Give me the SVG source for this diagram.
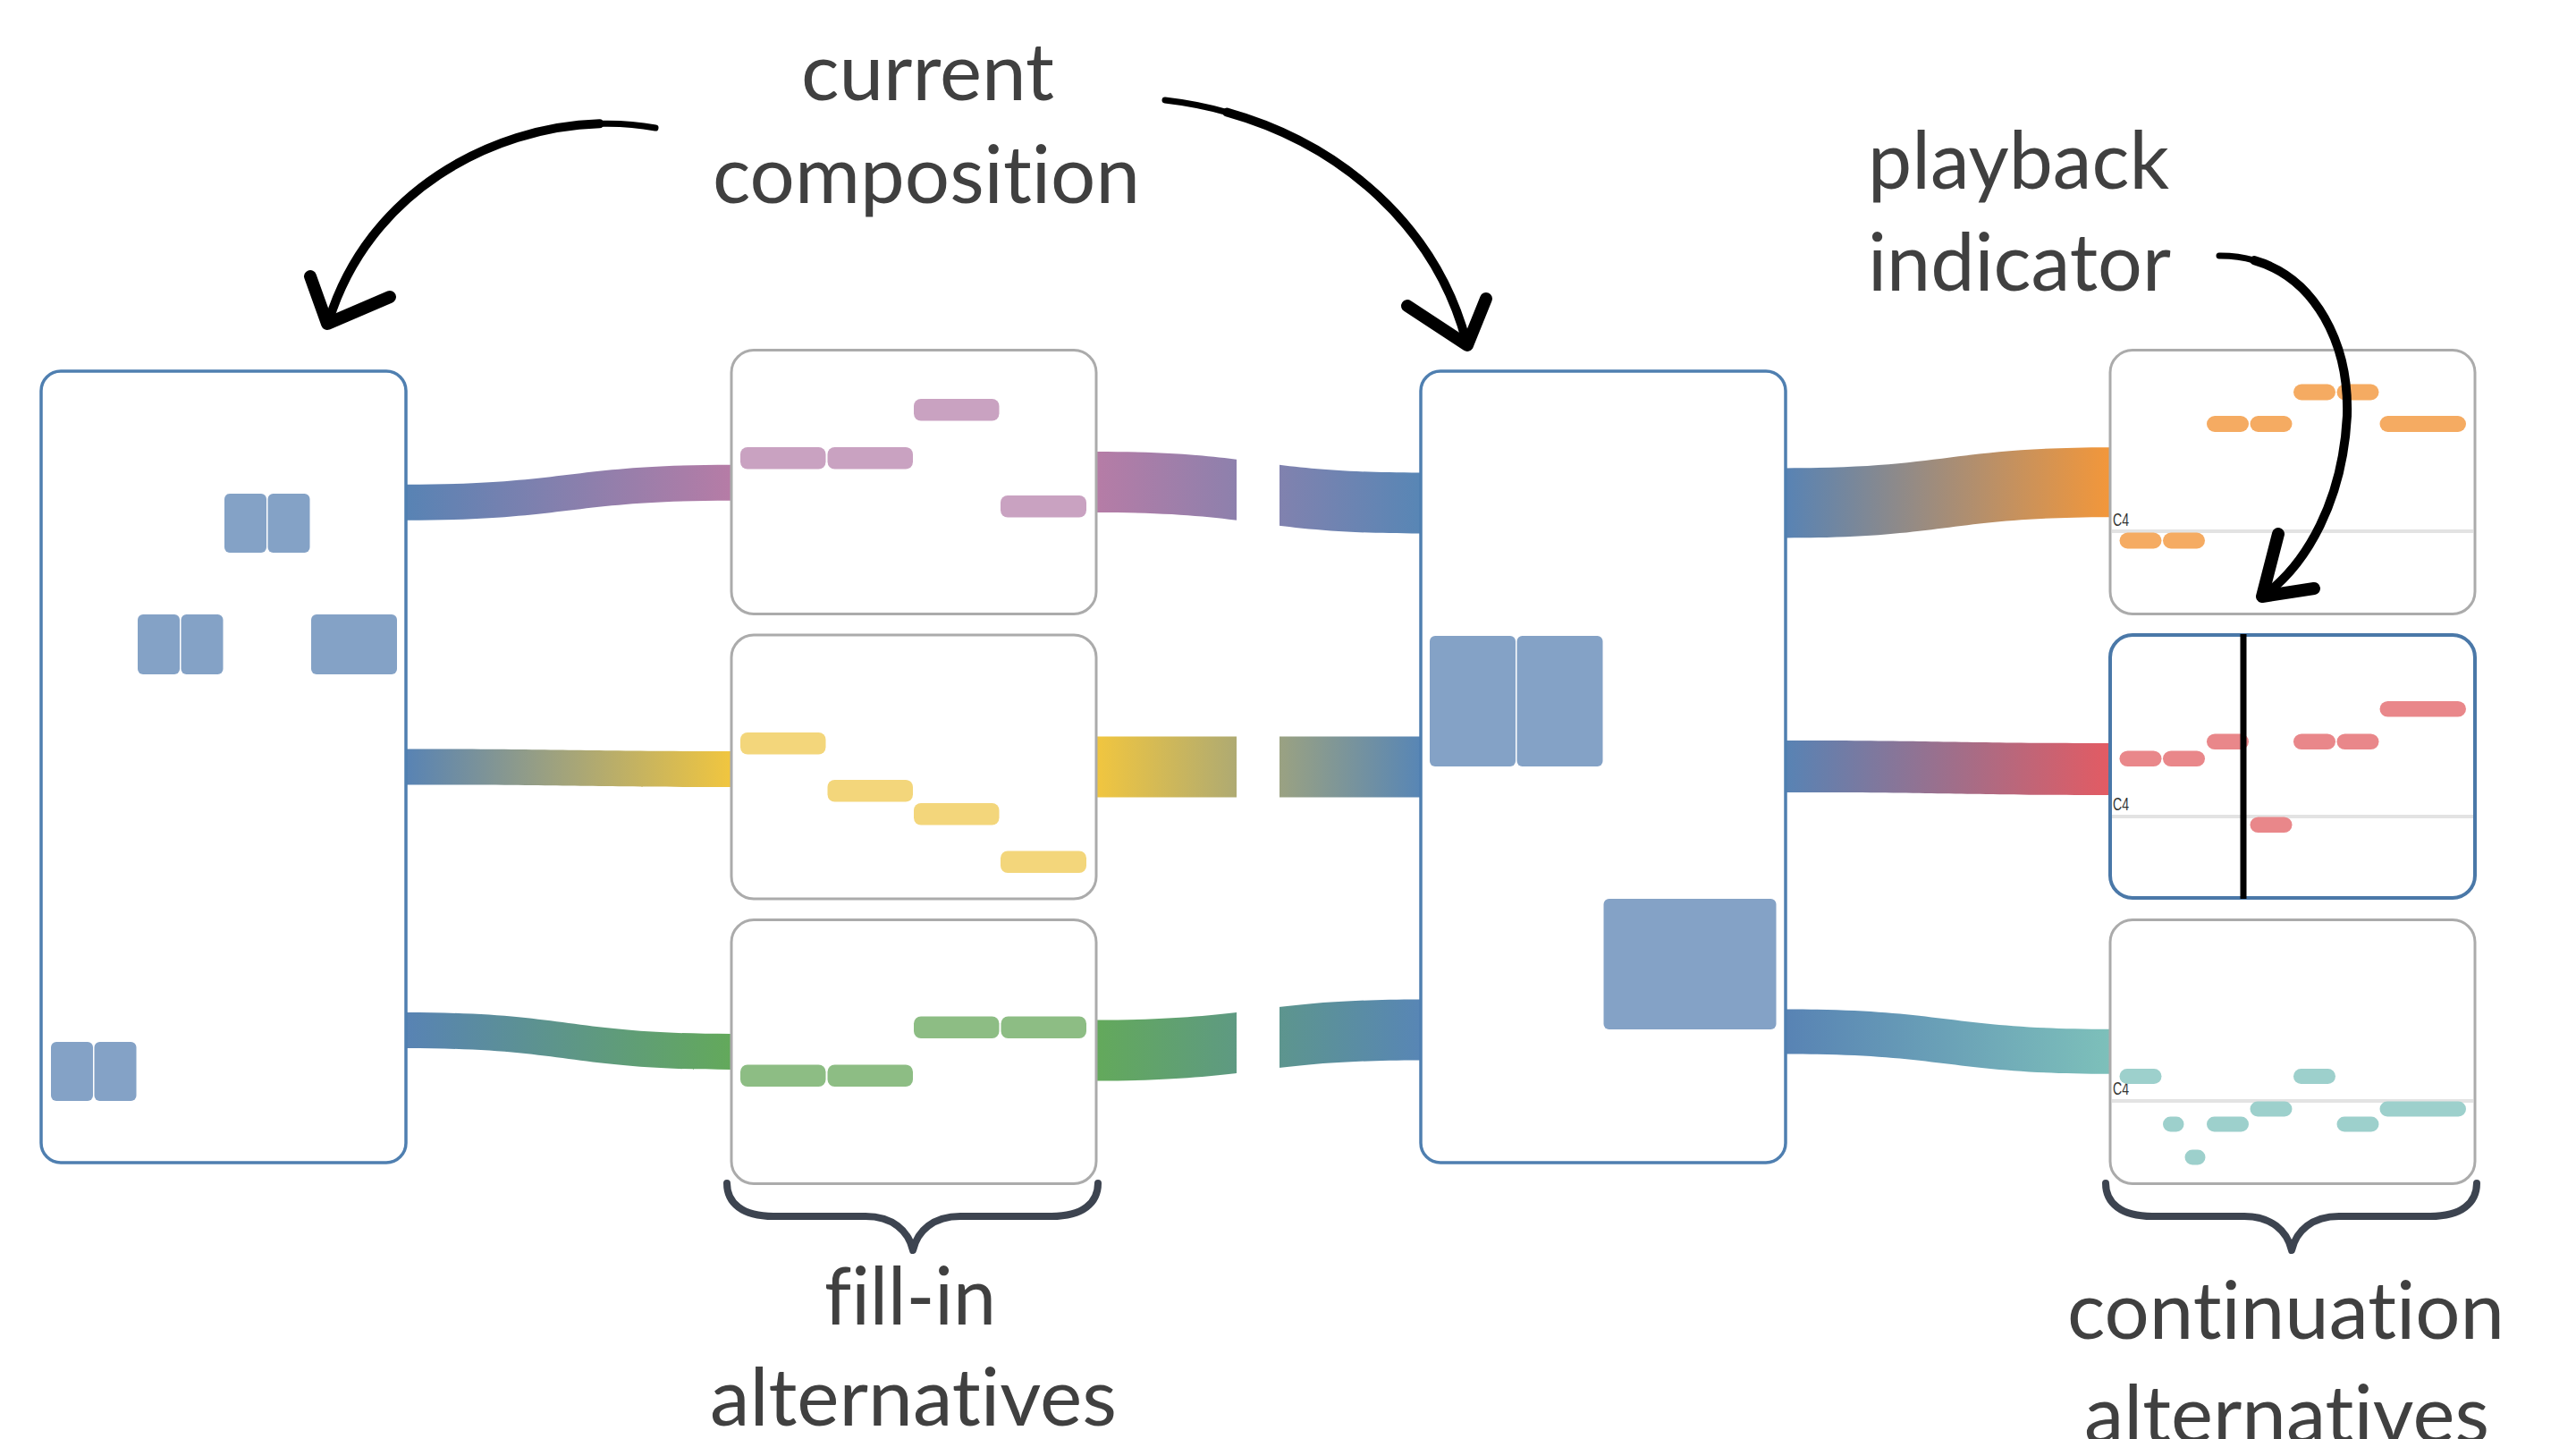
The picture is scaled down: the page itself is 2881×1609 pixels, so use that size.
<svg xmlns="http://www.w3.org/2000/svg" width="2881" height="1609" viewBox="0 0 2881 1609">
  <style>
    .label { font-family: Lato, "Open Sans", "Liberation Sans", sans-serif; font-size: 90px; fill: #404040; font-variant-ligatures: none; font-feature-settings: "liga" 0, "dlig" 0; }
    .c4 { font-family: "Liberation Sans", Arial, sans-serif; font-size: 20px; fill: #333333; }
    .comp { fill: #ffffff; stroke: #4f7fb0; stroke-width: 3.5; }
    .alt { fill: #ffffff; stroke: #ababab; stroke-width: 3; }
    .alt-sel { fill: #ffffff; stroke: #4a78a8; stroke-width: 4; }
    .blue-note { fill: #84a2c6; }
    .n-purple { fill: #c9a2c1; }
    .n-yellow { fill: #f3d67b; }
    .n-green { fill: #8dbd84; }
    .n-orange { fill: #f5ab62; }
    .n-red { fill: #e9878a; }
    .n-teal { fill: #9dd0cc; }
    .c4line { stroke: #e3e3e3; stroke-width: 4; }
    .shaft { fill: none; stroke: #000000; stroke-width: 10; stroke-linecap: round; }
    .tail { fill: none; stroke: #000000; stroke-width: 7; stroke-linecap: round; }
    .barb { fill: none; stroke: #000000; stroke-width: 14; stroke-linecap: round; stroke-linejoin: round; }
    .brace { fill: none; stroke: #3d4450; stroke-width: 8; stroke-linecap: round; stroke-linejoin: round; }
  </style>
  <defs>
    <linearGradient id="g-l-purple" gradientUnits="userSpaceOnUse" x1="454" y1="0" x2="818" y2="0">
      <stop offset="0" stop-color="#5883b4"/><stop offset="1" stop-color="#b67ca6"/>
    </linearGradient>
    <linearGradient id="g-l-yellow" gradientUnits="userSpaceOnUse" x1="454" y1="0" x2="818" y2="0">
      <stop offset="0" stop-color="#5883b4"/><stop offset="1" stop-color="#f1c63f"/>
    </linearGradient>
    <linearGradient id="g-l-green" gradientUnits="userSpaceOnUse" x1="454" y1="0" x2="818" y2="0">
      <stop offset="0" stop-color="#5883b4"/><stop offset="1" stop-color="#63a95b"/>
    </linearGradient>
    <linearGradient id="g-m-purple" gradientUnits="userSpaceOnUse" x1="1226" y1="0" x2="1588" y2="0">
      <stop offset="0" stop-color="#b67ca6"/><stop offset="1" stop-color="#5886b5"/>
    </linearGradient>
    <linearGradient id="g-m-yellow" gradientUnits="userSpaceOnUse" x1="1226" y1="0" x2="1588" y2="0">
      <stop offset="0" stop-color="#f1c63f"/><stop offset="1" stop-color="#5886b5"/>
    </linearGradient>
    <linearGradient id="g-m-green" gradientUnits="userSpaceOnUse" x1="1226" y1="0" x2="1588" y2="0">
      <stop offset="0" stop-color="#63a95b"/><stop offset="1" stop-color="#5886b5"/>
    </linearGradient>
    <linearGradient id="g-r-orange" gradientUnits="userSpaceOnUse" x1="1997" y1="0" x2="2360" y2="0">
      <stop offset="0" stop-color="#5883b4"/><stop offset="1" stop-color="#f3973a"/>
    </linearGradient>
    <linearGradient id="g-r-red" gradientUnits="userSpaceOnUse" x1="1997" y1="0" x2="2360" y2="0">
      <stop offset="0" stop-color="#5883b4"/><stop offset="1" stop-color="#e35b63"/>
    </linearGradient>
    <linearGradient id="g-r-teal" gradientUnits="userSpaceOnUse" x1="1997" y1="0" x2="2360" y2="0">
      <stop offset="0" stop-color="#5883b4"/><stop offset="1" stop-color="#7dc0ba"/>
    </linearGradient>
    <!-- the fill-in links are broken in the middle -->
    <clipPath id="split-link">
      <rect x="1200" y="400" width="183" height="900"/>
      <rect x="1431" y="400" width="180" height="900"/>
    </clipPath>
  </defs>

  <rect x="0" y="0" width="2881" height="1609" fill="#ffffff"/>

  <!-- connectors: sankey-style bands -->
  <g id="connectors">
    <path d="M454,541.7 C636,541.7 636,519.7 818,519.7 L818,559.7 C636,559.7 636,581.7 454,581.7 Z" fill="url(#g-l-purple)"/>
    <path d="M454,837.5 C636,837.5 636,840 818,840 L818,880 C636,880 636,877.5 454,877.5 Z" fill="url(#g-l-yellow)"/>
    <path d="M454,1132 C636,1132 636,1156 818,1156 L818,1196 C636,1196 636,1172 454,1172 Z" fill="url(#g-l-green)"/>
    <g clip-path="url(#split-link)">
      <path d="M1226,505 C1407,505 1407,528.5 1588,528.5 L1588,596.5 C1407,596.5 1407,573 1226,573 Z" fill="url(#g-m-purple)"/>
      <path d="M1226,823.5 C1407,823.5 1407,823.5 1588,823.5 L1588,891.5 C1407,891.5 1407,891.5 1226,891.5 Z" fill="url(#g-m-yellow)"/>
      <path d="M1226,1140.5 C1407,1140.5 1407,1117.5 1588,1117.5 L1588,1185.5 C1407,1185.5 1407,1208.5 1226,1208.5 Z" fill="url(#g-m-green)"/>
    </g>
    <path d="M1997,523.4 C2178.5,523.4 2178.5,500.2 2360,500.2 L2360,578.2 C2178.5,578.2 2178.5,601.4 1997,601.4 Z" fill="url(#g-r-orange)"/>
    <path d="M1997,828 C2178.5,828 2178.5,831 2360,831 L2360,889 C2178.5,889 2178.5,886 1997,886 Z" fill="url(#g-r-red)"/>
    <path d="M1997,1128.4 C2178.5,1128.4 2178.5,1150.7 2360,1150.7 L2360,1200.7 C2178.5,1200.7 2178.5,1178.4 1997,1178.4 Z" fill="url(#g-r-teal)"/>
  </g>

  <!-- current composition, before editing -->
  <g id="composition-left">
    <rect class="comp" x="46" y="415" width="408" height="885" rx="22"/>
    <rect class="blue-note" x="251" y="552" width="47" height="66" rx="6"/>
    <rect class="blue-note" x="299.5" y="552" width="47" height="66" rx="6"/>
    <rect class="blue-note" x="154" y="687" width="47" height="67" rx="6"/>
    <rect class="blue-note" x="202.5" y="687" width="47" height="67" rx="6"/>
    <rect class="blue-note" x="348" y="687" width="96" height="67" rx="6"/>
    <rect class="blue-note" x="57" y="1165" width="47" height="66" rx="6"/>
    <rect class="blue-note" x="105.5" y="1165" width="47" height="66" rx="6"/>
  </g>

  <!-- fill-in alternatives -->
  <g id="fillin-1">
    <rect class="alt" x="818" y="391.5" width="408" height="295" rx="25"/>
    <rect class="n-purple" x="828" y="500" width="95.5" height="24.5" rx="8"/>
    <rect class="n-purple" x="925.5" y="500" width="95.5" height="24.5" rx="8"/>
    <rect class="n-purple" x="1022" y="446" width="95.5" height="24.5" rx="8"/>
    <rect class="n-purple" x="1119" y="554" width="96" height="24.5" rx="8"/>
  </g>
  <g id="fillin-2">
    <rect class="alt" x="818" y="710" width="408" height="295" rx="25"/>
    <rect class="n-yellow" x="828" y="819" width="95.5" height="24.5" rx="8"/>
    <rect class="n-yellow" x="925.5" y="872" width="95.5" height="24.5" rx="8"/>
    <rect class="n-yellow" x="1022" y="898" width="95.5" height="24.5" rx="8"/>
    <rect class="n-yellow" x="1119" y="951.5" width="96" height="24.5" rx="8"/>
  </g>
  <g id="fillin-3">
    <rect class="alt" x="818" y="1028.5" width="408" height="295" rx="25"/>
    <rect class="n-green" x="828" y="1190.5" width="95.5" height="24.5" rx="8"/>
    <rect class="n-green" x="925.5" y="1190.5" width="95.5" height="24.5" rx="8"/>
    <rect class="n-green" x="1022" y="1136.5" width="95.5" height="24.5" rx="8"/>
    <rect class="n-green" x="1119.5" y="1136.5" width="95.5" height="24.5" rx="8"/>
  </g>

  <!-- current composition, before continuing -->
  <g id="composition-middle">
    <rect class="comp" x="1589" y="415" width="408" height="885" rx="22"/>
    <rect class="blue-note" x="1599" y="711" width="96" height="146" rx="6"/>
    <rect class="blue-note" x="1696.5" y="711" width="96" height="146" rx="6"/>
    <rect class="blue-note" x="1793.5" y="1005" width="193" height="146" rx="6"/>
  </g>

  <!-- continuation alternatives -->
  <g id="continuation-1">
    <rect class="alt" x="2360" y="391.5" width="408" height="295" rx="25"/>
    <line class="c4line" x1="2362" y1="594" x2="2766" y2="594"/>
    <text class="c4" x="2363" y="588" textLength="18" lengthAdjust="spacingAndGlyphs">C4</text>
    <rect class="n-orange" x="2565" y="429.5" width="47" height="18" rx="9"/>
    <rect class="n-orange" x="2613.5" y="429.5" width="47" height="18" rx="9"/>
    <rect class="n-orange" x="2468" y="465" width="47" height="18" rx="9"/>
    <rect class="n-orange" x="2516.5" y="465" width="47" height="18" rx="9"/>
    <rect class="n-orange" x="2661.5" y="465" width="96.5" height="18" rx="9"/>
    <rect class="n-orange" x="2370.5" y="595.5" width="47" height="18" rx="9"/>
    <rect class="n-orange" x="2419" y="595.5" width="47" height="18" rx="9"/>
  </g>
  <g id="continuation-2">
    <rect class="alt-sel" x="2360" y="710" width="408" height="294" rx="25"/>
    <line class="c4line" x1="2362" y1="913" x2="2766" y2="913"/>
    <text class="c4" x="2363" y="906" textLength="18" lengthAdjust="spacingAndGlyphs">C4</text>
    <rect class="n-red" x="2370.5" y="839.5" width="47" height="17.5" rx="9"/>
    <rect class="n-red" x="2419" y="839.5" width="47" height="17.5" rx="9"/>
    <rect class="n-red" x="2468" y="820.5" width="47" height="17.5" rx="9"/>
    <rect class="n-red" x="2516.5" y="913.5" width="47" height="17.5" rx="9"/>
    <rect class="n-red" x="2565" y="820.5" width="47" height="17.5" rx="9"/>
    <rect class="n-red" x="2613.5" y="820.5" width="47" height="17.5" rx="9"/>
    <rect class="n-red" x="2661.5" y="784" width="96.5" height="17.5" rx="9"/>
    <!-- playback position -->
    <rect x="2505.5" y="709" width="7" height="296" fill="#000000"/>
  </g>
  <g id="continuation-3">
    <rect class="alt" x="2360" y="1028.5" width="408" height="295" rx="25"/>
    <line class="c4line" x1="2362" y1="1231" x2="2766" y2="1231"/>
    <text class="c4" x="2363" y="1224" textLength="18" lengthAdjust="spacingAndGlyphs">C4</text>
    <rect class="n-teal" x="2370.5" y="1195" width="47" height="17" rx="8.5"/>
    <rect class="n-teal" x="2565" y="1195" width="47" height="17" rx="8.5"/>
    <rect class="n-teal" x="2419" y="1248.5" width="23.5" height="17" rx="8.5"/>
    <rect class="n-teal" x="2443.5" y="1285.5" width="23" height="17" rx="8.5"/>
    <rect class="n-teal" x="2468" y="1248.5" width="47" height="17" rx="8.5"/>
    <rect class="n-teal" x="2516.5" y="1231.5" width="47" height="17" rx="8.5"/>
    <rect class="n-teal" x="2613.5" y="1248.5" width="47" height="17" rx="8.5"/>
    <rect class="n-teal" x="2661.5" y="1231.5" width="96.5" height="17" rx="8.5"/>
  </g>

  <!-- hand-drawn pointer arrows: each curve is split into a thinner tail and a heavier shaft, then a bold head -->
  <g id="arrows">
    <path class="tail" d="M733,143 C713.05,139.25 692.04,137.68 670.57,138.29"/>
    <path class="shaft" d="M670.57,138.29 C548.88,141.76 412.2,215.2 368,358"/>
    <path class="barb" d="M347,309 L366,362 L436,332"/>
    <path class="tail" d="M1303,112 C1326.55,114.7 1349.72,119.25 1372.22,125.54"/>
    <path class="shaft" d="M1372.22,125.54 C1499.75,161.17 1606,252.8 1640,382"/>
    <path class="barb" d="M1574,342 L1641,386 L1662,334"/>
    <path class="tail" d="M2482,286 C2495.95,285.85 2509,287.64 2521.1,291.1"/>
    <path class="shaft" d="M2521.1,291.1 C2589.64,310.73 2627.55,384.25 2625,465 C2620,560 2580,630 2533,665"/>
    <path class="barb" d="M2548,597 L2530,667 L2588,658"/>
  </g>

  <!-- group braces -->
  <g id="braces">
    <path class="brace" d="M813,1323 C813,1345 830,1360 865,1360 L968,1360 C998,1360 1016,1376 1021,1398 C1026,1376 1044,1360 1074,1360 L1176,1360 C1211,1360 1228,1345 1228,1323"/>
    <path class="brace" d="M2355,1323 C2355,1345 2372,1360 2407,1360 L2510,1360 C2540,1360 2558,1376 2563,1398 C2568,1376 2586,1360 2616,1360 L2718,1360 C2753,1360 2770,1345 2770,1323"/>
  </g>

  <!-- labels -->
  <g id="labels">
    <text class="label" x="896" y="112" textLength="283" lengthAdjust="spacingAndGlyphs">current</text>
    <text class="label" x="797" y="227" textLength="478" lengthAdjust="spacingAndGlyphs">composition</text>
    <text class="label" x="2089" y="211" textLength="337" lengthAdjust="spacingAndGlyphs">playback</text>
    <text class="label" x="2089" y="325" textLength="339" lengthAdjust="spacingAndGlyphs">indicator</text>
    <text class="label" x="922" y="1481" textLength="192" lengthAdjust="spacingAndGlyphs">fill-in</text>
    <text class="label" x="794" y="1594" textLength="455" lengthAdjust="spacingAndGlyphs">alternatives</text>
    <text class="label" x="2312" y="1497" textLength="489" lengthAdjust="spacingAndGlyphs">continuation</text>
    <text class="label" x="2331" y="1613" textLength="453" lengthAdjust="spacingAndGlyphs">alternatives</text>
  </g>
</svg>
